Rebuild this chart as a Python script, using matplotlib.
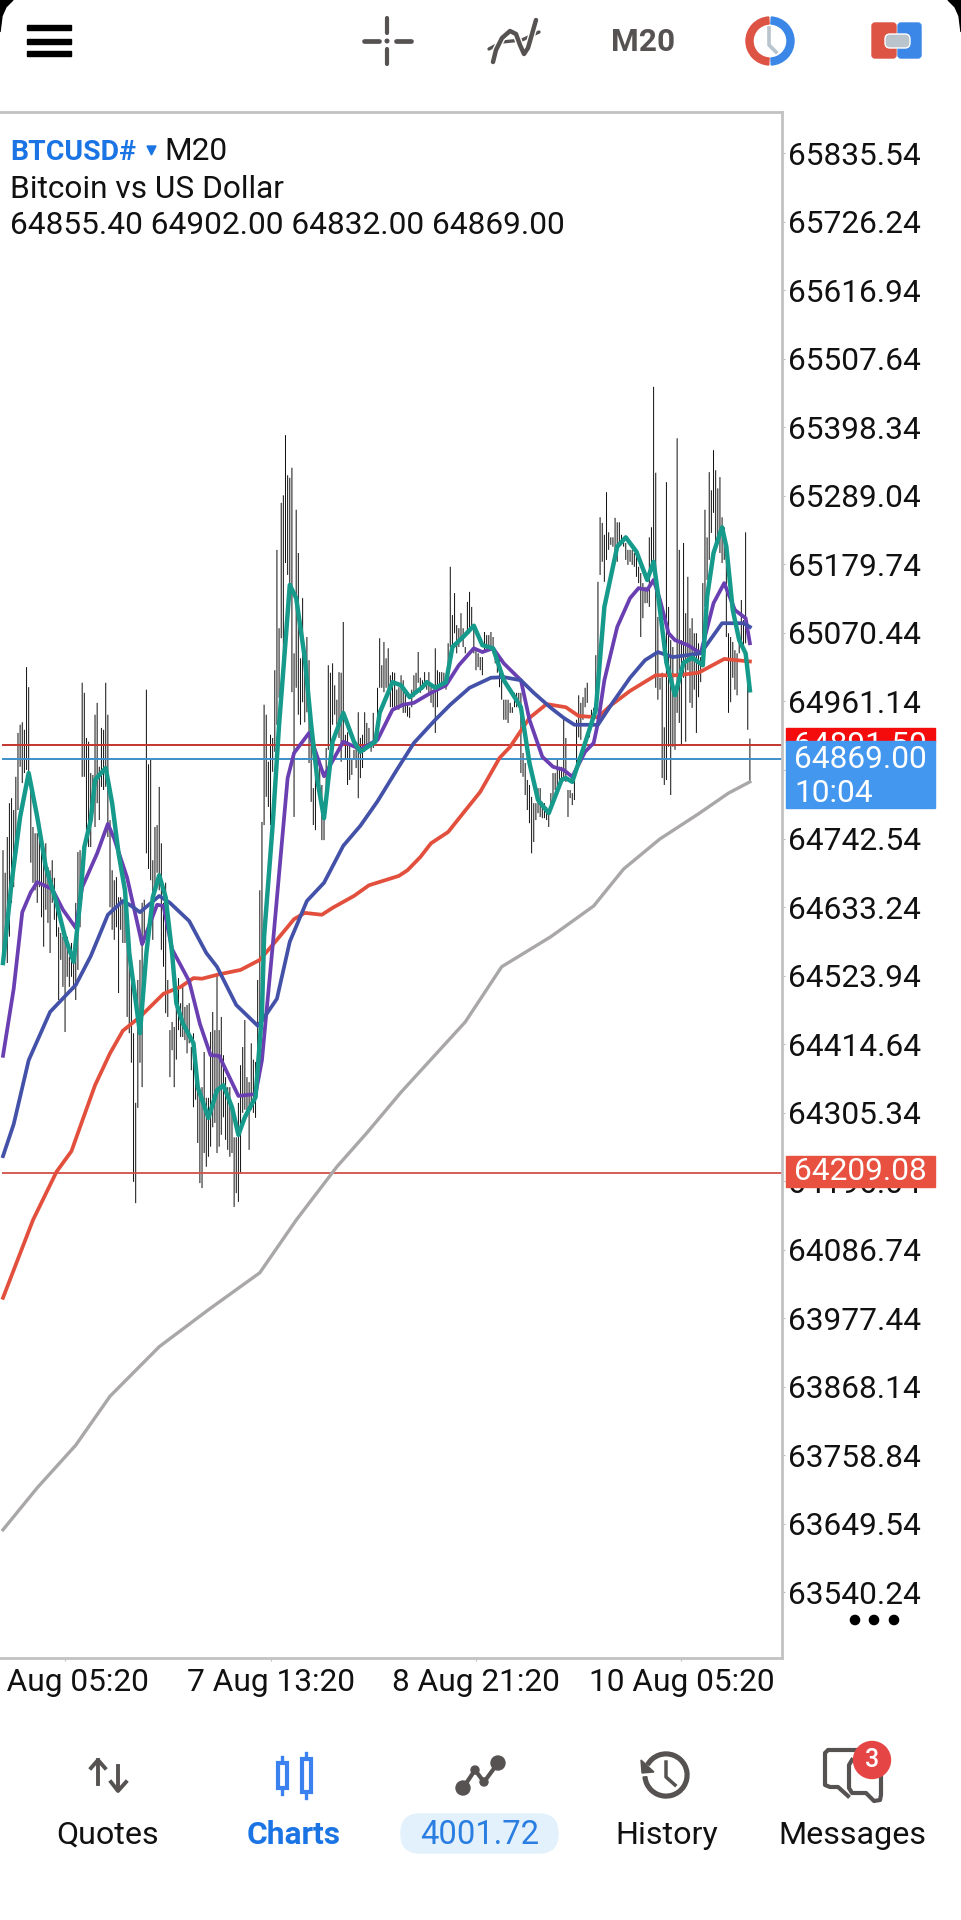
import matplotlib
matplotlib.use("Agg")
import matplotlib.pyplot as plt
from matplotlib.patches import Circle, FancyBboxPatch, Polygon, Rectangle, Wedge

plt.rcParams["font.family"] = ["Roboto", "DejaVu Sans"]

LARGURA_PX = 961
ALTURA_PX = 1920
TOPO_PAINEL = 112
BASE_PAINEL = 1658
DIREITA_PAINEL = 782
FONTE = 22.8

AZUL = "#1b74e4"
CINZA_ICONE = "#565252"

HIGHS = [
    64724, 64688, 64745, 64799, 64807, 64788, 64841, 64911, 64924, 64928,
    64916, 65016, 64984, 64831, 64761, 64751, 64751, 64751, 64729, 64708,
    64735, 64697, 64692, 64708, 64680, 64629, 64601, 64592, 64586, 64586,
    64586, 64554, 64576, 64549, 64640, 64721, 64724, 64991, 64975, 64903,
    64897, 64847, 64844, 64940, 64959, 64857, 64919, 64916, 64991, 64940,
    64772, 64692, 64676, 64681, 64649, 64649, 64645, 64640, 64633, 64565,
    64512, 64432, 64321, 64517, 64549, 64640, 64645, 64980, 64861, 64868,
    64708, 64761, 64764, 64825, 64735, 64640, 64672, 64517, 64437, 64450,
    64442, 64490, 64520, 64480, 64506, 64474, 64477, 64480, 64410, 64432,
    64390, 64362, 64330, 64346, 64402, 64329, 64329, 64434, 64466, 64437,
    64528, 64437, 64458, 64397, 64362, 64346, 64346, 64314, 64266, 64266,
    64321, 64381, 64410, 64453, 64362, 64354, 64416, 64390, 64386, 64517,
    64660, 64769, 64956, 64940, 64865, 64908, 64903, 65011, 65203, 65078,
    65278, 65290, 65386, 65322, 65318, 65334, 65038, 65267, 65198, 65030,
    65126, 65030, 65064, 65027, 64924, 64823, 64876, 64871, 64871, 64828,
    64801, 64887, 65019, 65007, 65022, 64987, 64964, 65008, 65007, 65088,
    64908, 64912, 64892, 64868, 64884, 64892, 64944, 64903, 64908, 64944,
    64927, 64919, 64897, 64943, 64912, 64983, 65062, 65019, 65056, 65030,
    65046, 65003, 65008, 65007, 64980, 64984, 65003, 64995, 64975, 64959,
    64952, 64980, 65003, 65007, 65040, 64999, 64995, 65008, 64995, 65008,
    64984, 64980, 65046, 65011, 65008, 65008, 65007, 64995, 65054, 65176,
    65099, 65134, 65083, 65078, 65102, 65078, 65048, 65120, 65136, 65112,
    65080, 65043, 65038, 65032, 65032, 65072, 65067, 65067, 65072, 65064,
    65038, 65038, 65032, 65007, 64964, 64964, 64964, 64959, 64952, 64975,
    64975, 64975, 64975, 64879, 64863, 64836, 64828, 64809, 64799, 64799,
    64823, 64823, 64801, 64799, 64793, 64783, 64815, 64847, 64847, 64871,
    64857, 64857, 64935, 64903, 64820, 64820, 64815, 64847, 64932, 64971,
    64959, 64968, 64983, 64991, 64924, 64948, 64951, 65035, 65152, 65255,
    65246, 65227, 65295, 65231, 65223, 65223, 65254, 65247, 65247, 65227,
    65223, 65214, 65203, 65203, 65203, 65198, 65192, 65176, 65166, 65150,
    65144, 65144, 65223, 65239, 65463, 65326, 65096, 64999, 65007, 64920,
    65311, 65112, 65059, 65048, 64968, 65381, 65203, 65059, 65214, 65102,
    65160, 65078, 65094, 65070, 65070, 65054, 65032, 65150, 65267, 65223,
    65327, 65298, 65362, 65330, 65301, 65319, 65255, 65239, 65214, 65070,
    65064, 65056, 65043, 65038, 65054, 65123, 65091, 65231, 65007, 64902,
]
LOWS = [
    64544, 64586, 64544, 64586, 64640, 64665, 64713, 64788, 64857, 64831,
    64847, 64852, 64836, 64704, 64672, 64660, 64640, 64665, 64617, 64570,
    64629, 64608, 64560, 64640, 64613, 64586, 64485, 64549, 64506, 64434,
    64522, 64506, 64522, 64501, 64485, 64533, 64601, 64841, 64841, 64756,
    64729, 64729, 64783, 64761, 64799, 64772, 64825, 64820, 64825, 64745,
    64633, 64597, 64581, 64601, 64496, 64597, 64576, 64576, 64458, 64432,
    64385, 64195, 64161, 64313, 64385, 64346, 64576, 64719, 64694, 64676,
    64581, 64665, 64688, 64660, 64565, 64538, 64464, 64458, 64362, 64405,
    64346, 64390, 64437, 64426, 64426, 64421, 64400, 64416, 64373, 64314,
    64326, 64257, 64193, 64185, 64241, 64219, 64235, 64251, 64282, 64289,
    64241, 64251, 64270, 64298, 64262, 64246, 64235, 64241, 64155, 64177,
    64163, 64209, 64305, 64310, 64305, 64246, 64310, 64305, 64297, 64346,
    64362, 64549, 64764, 64809, 64793, 64764, 64849, 64881, 64924, 64967,
    65062, 65030, 65182, 65163, 65136, 64976, 64777, 64983, 64940, 64924,
    64960, 64928, 64944, 64863, 64801, 64764, 64756, 64817, 64801, 64740,
    64740, 64807, 64884, 64892, 64924, 64940, 64924, 64903, 64865, 64897,
    64871, 64828, 64836, 64844, 64868, 64855, 64807, 64839, 64855, 64881,
    64892, 64892, 64881, 64887, 64897, 64919, 64983, 64983, 64976, 64983,
    64976, 64952, 64952, 64948, 64948, 64948, 64952, 64943, 64943, 64937,
    64935, 64952, 64968, 64975, 64991, 64975, 64980, 64984, 64980, 64976,
    64959, 64952, 64911, 64952, 64980, 64984, 64984, 64980, 65007, 65048,
    65032, 65070, 65038, 65048, 65059, 65048, 65038, 65070, 65070, 65075,
    65038, 65011, 65016, 65011, 65003, 65043, 65043, 65048, 65043, 65038,
    65022, 65007, 64984, 64964, 64932, 64932, 64927, 64943, 64943, 64952,
    64952, 64952, 64847, 64841, 64812, 64788, 64767, 64719, 64737, 64772,
    64783, 64777, 64775, 64775, 64772, 64761, 64788, 64804, 64820, 64825,
    64833, 64836, 64836, 64833, 64777, 64807, 64796, 64804, 64857, 64904,
    64900, 64932, 64952, 64959, 64904, 64920, 64932, 64943, 64999, 65163,
    65184, 65152, 65187, 65203, 65211, 65208, 65195, 65184, 65208, 65214,
    65208, 65187, 65179, 65184, 65179, 65176, 65160, 65150, 65064, 65094,
    65118, 65118, 65112, 65166, 65187, 64983, 64964, 64980, 64839, 64828,
    64836, 64889, 64812, 64889, 64884, 64943, 64927, 64892, 64999, 64897,
    65011, 64959, 64951, 64980, 64911, 64968, 64992, 65016, 65112, 65155,
    65187, 65230, 65262, 65203, 65219, 65198, 65182, 65187, 65064, 64943,
    64960, 64999, 64980, 64971, 65038, 65048, 65048, 65054, 64916, 64832,
]

# medias moveis: indice da barra e preco
GRAY_IDX = [0, 16, 34, 50, 73, 96, 120, 137, 156, 170, 186, 216, 233, 256, 276, 290, 307, 325, 339, 349]
GRAY_MA = [63640, 63707, 63775, 63853, 63932, 63991, 64050, 64134, 64219, 64273, 64338, 64450,
           64538, 64586, 64635, 64694, 64742, 64782, 64815, 64833]

RED_IDX = [0, 14, 25, 32, 37, 43, 50, 56, 64, 75, 83, 89, 93, 101, 111, 120, 128, 136, 141, 149, 154, 164,
           171, 185, 189, 195, 200, 208, 215, 223, 232, 237, 246, 254, 263, 269, 278, 284, 293, 305, 315,
           325, 337, 349]
RED_MA = [64010, 64134, 64211, 64244, 64292, 64349, 64400, 64436, 64458, 64495, 64506, 64520, 64519, 64526,
          64533, 64549, 64581, 64614, 64624, 64621, 64632, 64651, 64668, 64683, 64692, 64713, 64735, 64753,
          64783, 64817, 64871, 64889, 64935, 64957, 64952, 64938, 64936, 64955, 64978, 65003, 65003, 65007,
          65029, 65025]

BLUE_IDX = [0, 5, 12, 22, 34, 41, 49, 56, 60, 64, 73, 78, 87, 95, 100, 109, 119, 121, 128, 134, 142, 150,
            159, 167, 175, 184, 192, 202, 209, 218, 228, 234, 242, 248, 256, 262, 267, 278, 285, 293, 300,
            306, 313, 326, 336, 346, 349]
BLUE_MA = [64236, 64287, 64389, 64466, 64509, 64555, 64621, 64643, 64635, 64625, 64651, 64640, 64611, 64560,
           64538, 64477, 64444, 64452, 64487, 64578, 64643, 64672, 64731, 64763, 64802, 64852, 64895, 64932,
           64956, 64983, 64999, 65000, 64995, 64975, 64951, 64935, 64924, 64924, 64960, 64999, 65027, 65040,
           65032, 65038, 65086, 65086, 65080]

PURPLE_IDX = [0, 5, 9, 13, 16, 23, 28, 34, 37, 44, 49, 52, 58, 65, 72, 75, 79, 87, 92, 97, 101, 110, 118,
              121, 126, 133, 136, 143, 150, 159, 167, 175, 182, 187, 192, 200, 207, 213, 220, 224, 229, 234,
              242, 246, 252, 257, 262, 266, 272, 276, 278, 281, 287, 293, 297, 301, 304, 307, 311, 314, 320,
              326, 332, 337, 342, 347, 349]
PURPLE_MA = [64396, 64503, 64625, 64657, 64673, 64662, 64629, 64600, 64665, 64719, 64766, 64742, 64680, 64574,
             64637, 64635, 64566, 64515, 64447, 64397, 64396, 64332, 64335, 64389, 64571, 64839, 64879, 64911,
             64842, 64897, 64885, 64900, 64948, 64956, 64959, 64975, 64987, 65019, 65046, 65040, 65046, 65022,
             64995, 64932, 64873, 64857, 64852, 64841, 64881, 64895, 64927, 64995, 65080, 65126, 65142, 65139,
             65155, 65123, 65070, 65059, 65051, 65038, 65118, 65150, 65107, 65094, 65054]

TEAL_IDX = [0, 4, 8, 12, 16, 20, 25, 29, 33, 36, 38, 41, 43, 45, 48, 51, 54, 57, 59, 64, 67, 70, 73, 76, 79,
            81, 84, 89, 91, 96, 100, 103, 107, 110, 113, 118, 121, 122, 126, 129, 132, 134, 137, 141, 144,
            147, 150, 154, 159, 164, 167, 174, 176, 182, 186, 190, 196, 198, 202, 207, 210, 215, 220, 224,
            229, 234, 237, 242, 246, 250, 255, 261, 263, 266, 272, 277, 281, 287, 291, 296, 301, 304, 306,
            310, 314, 318, 322, 327, 329, 332, 336, 338, 341, 344, 347, 349]
TEAL_MA = [64544, 64672, 64777, 64847, 64777, 64697, 64640, 64585, 64546, 64640, 64729, 64772, 64836, 64844,
           64855, 64799, 64719, 64660, 64560, 64432, 64560, 64649, 64684, 64649, 64560, 64480, 64448, 64416,
           64346, 64297, 64341, 64349, 64314, 64270, 64298, 64330, 64464, 64586, 64764, 64924, 65056, 65147,
           65126, 65031, 64924, 64833, 64775, 64897, 64943, 64897, 64881, 64897, 64943, 64992, 64987, 64968,
           64984, 64992, 64983, 64992, 65048, 65064, 65082, 65051, 65046, 64995, 64979, 64952, 64863, 64804,
           64783, 64836, 64839, 64833, 64895, 64948, 65112, 65208, 65223, 65200, 65155, 65184, 65134, 65023,
           64971, 65023, 65031, 65019, 65128, 65198, 65239, 65208, 65107, 65059, 65038, 64979]

PRICE_TICKS = [65835.54, 65726.24, 65616.94, 65507.64, 65398.34, 65289.04, 65179.74, 65070.44, 64961.14,
               64851.84, 64742.54, 64633.24, 64523.94, 64414.64, 64305.34, 64196.04, 64086.74, 63977.44,
               63868.14, 63758.84, 63649.54, 63540.24]
TIME_TICKS = [29, 125, 221, 317]
TIME_LABELS = ["6 Aug 05:20", "7 Aug 13:20", "8 Aug 21:20", "10 Aug 05:20"]

HEADER_VALUES = ["64855.40", "64902.00", "64832.00", "64869.00"]
BID_PRICE = 64869.00
ASK_PRICE = 64891.50
LEVEL_PRICE = 64209.08
COUNTDOWN = "10:04"
BALANCE = "4001.72"
TAB_LABELS = ["Quotes", "Charts", "History", "Messages"]


def _desenhar_grafico(ax):
    xs = list(range(len(HIGHS)))
    ax.vlines(xs, LOWS, HIGHS, color="#111111", linewidth=0.72, snap=False, zorder=2)

    ax.hlines(ASK_PRICE, -0.5, 364, color="#c4352e", linewidth=1.4, zorder=2.5)
    ax.hlines(BID_PRICE, -0.5, 364, color="#3f8fc9", linewidth=1.4, zorder=2.5)
    ax.hlines(LEVEL_PRICE, -0.5, 364, color="#d2504a", linewidth=1.3, zorder=2.5)

    ax.plot(GRAY_IDX, GRAY_MA, color="#a9a7a7", linewidth=2.4, zorder=3)
    ax.plot(RED_IDX, RED_MA, color="#e2503d", linewidth=2.7, zorder=3.1)
    ax.plot(PURPLE_IDX, PURPLE_MA, color="#6a3fb2", linewidth=2.7, zorder=3.2)
    ax.plot(BLUE_IDX, BLUE_MA, color="#4352a8", linewidth=2.7, zorder=3.3)
    ax.plot(TEAL_IDX, TEAL_MA, color="#159a8c", linewidth=3.2, zorder=3.4)

    ax.set_xlim(-1.4, 364)
    ax.set_ylim(63435.5, 65901.4)
    ax.yaxis.tick_right()
    ax.set_yticks(PRICE_TICKS)
    ax.set_yticklabels([f"{v:.2f}" for v in PRICE_TICKS])
    ax.set_xticks(TIME_TICKS)
    ax.set_xticklabels(TIME_LABELS)
    ax.tick_params(axis="y", length=2, width=0.8, color="#bdbdbd", labelsize=FONTE, labelcolor="#111111", pad=2)
    ax.tick_params(axis="x", length=2, width=0.8, color="#bdbdbd", labelsize=FONTE, labelcolor="#111111", pad=5.5)
    ax.spines["left"].set_visible(False)
    ax.spines[["top", "right", "bottom"]].set_color("#c2c2c2")
    ax.spines[["top", "right", "bottom"]].set_linewidth(2.0)


def _texto(ax, x, y, s, cor="#111111", ha="left", peso="normal", tam=FONTE):
    ax.text(x, y, s, color=cor, ha=ha, va="center", fontsize=tam, fontweight=peso)


def _cabecalho(ax):
    _texto(ax, 10, 152, "BTCUSD#", cor=AZUL, peso="bold", tam=20.4)
    ax.add_patch(Polygon([(147, 146), (156, 146), (151.5, 155)], color=AZUL))
    _texto(ax, 164, 152, "M20")
    _texto(ax, 10, 189, "Bitcoin vs US Dollar")
    _texto(ax, 10, 226, " ".join(HEADER_VALUES))


def _rotulos_preco(ax):
    ax.add_patch(Rectangle((786, 728), 149, 14, color="#f40b0b", zorder=2))
    _texto(ax, 794, 746, f"{ASK_PRICE:.2f}", cor="white")
    ax.add_patch(Rectangle((786, 741), 149, 67, color="#4497ef", zorder=3.5))
    ax.text(794, 759, f"{BID_PRICE:.2f}", color="white", va="center", fontsize=FONTE, zorder=4)
    ax.text(794, 794, COUNTDOWN, color="white", va="center", fontsize=FONTE, zorder=4)
    ax.add_patch(Rectangle((786, 1156), 149, 31, color="#e8503f", zorder=2))
    ax.text(794, 1172, f"{LEVEL_PRICE:.2f}", color="white", va="center", fontsize=FONTE, zorder=4)


def _barra_superior(ax):
    ax.add_patch(Polygon([(0, 0), (13, 0), (6, 7), (2, 16), (0, 32)], color="black"))
    ax.add_patch(Polygon([(961, 0), (948, 0), (955, 7), (959, 16), (961, 32)], color="black"))
    for y in (27, 41, 53):
        ax.add_patch(Rectangle((27, y - 2.5), 44, 5, color="black"))

    ax.plot([364, 379], [41, 41], color=CINZA_ICONE, lw=3.4, solid_capstyle="round")
    ax.plot([396, 411], [41, 41], color=CINZA_ICONE, lw=3.4, solid_capstyle="round")
    ax.plot([387, 387], [18, 33], color=CINZA_ICONE, lw=3, solid_capstyle="round")
    ax.plot([387, 387], [49, 64], color=CINZA_ICONE, lw=3, solid_capstyle="round")
    ax.add_patch(Circle((387, 41), 1.8, color=CINZA_ICONE))

    ax.plot([489, 502, 522, 539], [49, 42, 40, 32], color=CINZA_ICONE, lw=2.4, solid_capstyle="round")
    ax.plot([493, 496, 502, 510, 516, 520, 524, 528, 532, 536],
            [62, 50, 38, 31, 34, 45, 54, 48, 34, 20],
            color="white", lw=5.2)
    ax.plot([493, 496, 502, 510, 516, 520, 524, 528, 532, 536],
            [62, 50, 38, 31, 34, 45, 54, 48, 34, 20],
            color=CINZA_ICONE, lw=3.2, solid_capstyle="round")

    _texto(ax, 643, 42, "M20", cor=CINZA_ICONE, ha="center", peso="bold")

    ax.add_patch(Wedge((770, 41), 24, 93, 267, width=7, color="#dd5344"))
    ax.add_patch(Wedge((770, 41), 24, -87, 87, width=7, color="#3a87e8"))
    ax.plot([769, 769, 776], [28, 45, 52], color="#b9c4cc", lw=2.6)

    ax.add_patch(FancyBboxPatch((872, 23), 24, 35, boxstyle="round,pad=0,rounding_size=3", color="#dd5344"))
    ax.add_patch(FancyBboxPatch((898, 23), 23, 35, boxstyle="round,pad=0,rounding_size=3", color="#3a87e8"))
    ax.add_patch(FancyBboxPatch((885, 34), 25, 14, boxstyle="round,pad=0,rounding_size=5", color="#b9c4cc", ec="white", lw=1))


def _barra_inferior(ax):
    for x in (855, 874, 894):
        ax.add_patch(Circle((x, 1620), 4.6, color="black"))

    # Quotes
    ax.plot([98, 98], [1760, 1784], color=CINZA_ICONE, lw=2.8)
    ax.plot([91, 98, 105], [1768, 1760, 1768], color=CINZA_ICONE, lw=2.8)
    ax.plot([118, 118], [1766, 1790], color=CINZA_ICONE, lw=2.8)
    ax.plot([111, 118, 126], [1782, 1791, 1782], color=CINZA_ICONE, lw=2.8)

    # Charts
    for x, topo, base in ((282, 1757, 1794), (306, 1753, 1798)):
        ax.plot([x, x], [topo, base], color="#3b82f0", lw=2.4)
        ax.add_patch(Rectangle((x - 4.5, topo + 6), 9, base - topo - 12, fc="white", ec="#3b82f0", lw=3, zorder=3))

    # saldo
    ax.plot([463, 475, 484, 498], [1788, 1770, 1782, 1763], color=CINZA_ICONE, lw=3)
    for x, y, r in ((463, 1788, 7), (475, 1770, 4), (484, 1782, 4), (498, 1763, 7)):
        ax.add_patch(Circle((x, y), r, color=CINZA_ICONE))
    ax.add_patch(FancyBboxPatch((401, 1814), 157, 39, boxstyle="round,pad=0,rounding_size=19", color="#e2f1fb"))
    _texto(ax, 480, 1835, BALANCE, cor="#2a7de1", ha="center", tam=23.6)

    # History
    ax.add_patch(Wedge((666, 1775), 23, -150, 175, width=3.8, color=CINZA_ICONE))
    ax.plot([666, 666, 675], [1762, 1777, 1785], color=CINZA_ICONE, lw=2.5)
    ax.add_patch(Polygon([(641, 1760), (642, 1773), (654, 1772)], color=CINZA_ICONE))

    # Messages
    ax.plot([856, 828, 825, 825, 830, 838, 848], [1750, 1750, 1753, 1785, 1787, 1787, 1796],
            color=CINZA_ICONE, lw=3, solid_joinstyle="round")
    ax.plot([852, 849, 849, 852, 866, 874, 880, 881, 881], [1760, 1765, 1788, 1793, 1793, 1801, 1800, 1795, 1765],
            color=CINZA_ICONE, lw=3, solid_joinstyle="round")
    ax.add_patch(Circle((872, 1760), 18.5, color="#e64545", zorder=3))
    ax.text(872, 1760, "3", color="white", ha="center", va="center", fontsize=18, fontweight="medium", zorder=4)

    centros = [108, 294, 667, 852]
    for x, nome in zip(centros, TAB_LABELS):
        if nome == "Charts":
            _texto(ax, x, 1835, nome, cor=AZUL, ha="center", peso="bold")
        else:
            _texto(ax, x, 1835, nome, ha="center", tam=23.2)


def main():
    fig = plt.figure(figsize=(LARGURA_PX / 100, ALTURA_PX / 100), dpi=100, facecolor="white")

    ax = fig.add_axes([0, 1 - BASE_PAINEL / ALTURA_PX, DIREITA_PAINEL / LARGURA_PX,
                       (BASE_PAINEL - TOPO_PAINEL) / ALTURA_PX])
    _desenhar_grafico(ax)

    # camada em pixels para a interface do aplicativo
    ui = fig.add_axes([0, 0, 1, 1], zorder=5)
    ui.set_xlim(0, LARGURA_PX)
    ui.set_ylim(ALTURA_PX, 0)
    ui.axis("off")
    ui.patch.set_alpha(0)

    _cabecalho(ui)
    _rotulos_preco(ui)
    _barra_superior(ui)
    _barra_inferior(ui)

    fig.savefig("out.png", dpi=100)
    plt.close(fig)


if __name__ == "__main__":
    main()
